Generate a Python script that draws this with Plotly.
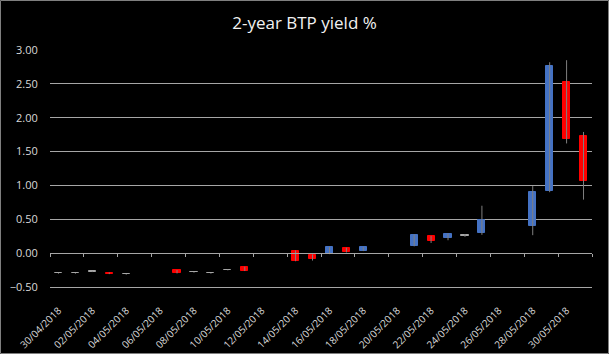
import pandas as pd
import plotly.graph_objects as go

# ---- data ----
dates = ["2018-04-30", "2018-05-01", "2018-05-02", "2018-05-03", "2018-05-04",
         "2018-05-07", "2018-05-08", "2018-05-09", "2018-05-10", "2018-05-11",
         "2018-05-14", "2018-05-15", "2018-05-16", "2018-05-17", "2018-05-18",
         "2018-05-21", "2018-05-22", "2018-05-23", "2018-05-24", "2018-05-25",
         "2018-05-28", "2018-05-29", "2018-05-30", "2018-05-31"]
open_ = [-0.300, -0.300, -0.275, -0.290, -0.315,
         -0.255, -0.285, -0.300, -0.250, -0.205,
         0.030, -0.030, -0.010, 0.080, 0.030,
         0.100, 0.250, 0.230, 0.260, 0.290,
         0.400, 0.920, 2.530, 1.730]
high = [-0.295, -0.295, -0.270, -0.285, -0.310,
        -0.250, -0.280, -0.295, -0.245, -0.200,
        0.040, -0.020, 0.090, 0.080, 0.090,
        0.275, 0.255, 0.290, 0.280, 0.700,
        0.990, 2.820, 2.850, 1.790]
low = [-0.305, -0.305, -0.280, -0.310, -0.320,
       -0.300, -0.290, -0.305, -0.255, -0.265,
       -0.120, -0.110, -0.015, 0.010, 0.030,
       0.100, 0.150, 0.190, 0.240, 0.270,
       0.265, 0.900, 1.620, 0.790]
close = [-0.292, -0.292, -0.267, -0.310, -0.307,
         -0.300, -0.277, -0.292, -0.242, -0.265,
         -0.110, -0.080, 0.090, 0.010, 0.090,
         0.270, 0.180, 0.280, 0.268, 0.490,
         0.905, 2.770, 1.690, 1.060]
tick_labels = ["30/04/2018", "02/05/2018", "04/05/2018", "06/05/2018", "08/05/2018",
               "10/05/2018", "12/05/2018", "14/05/2018", "16/05/2018", "18/05/2018",
               "20/05/2018", "22/05/2018", "24/05/2018", "26/05/2018", "28/05/2018",
               "30/05/2018"]
y_ticks = [-0.5, 0.0, 0.5, 1.0, 1.5, 2.0, 2.5, 3.0]
title_text = "2-year BTP yield %"

# ---- styling ----
UP = "#4472C4"
DOWN = "#FF0000"
FLAT = "#A6A6A6"
WICK = "#7F7F7F"
GRID = "#A6A6A6"
FONT = "Open Sans, Liberation Sans, sans-serif"

x = pd.to_datetime(dates)
tickvals = pd.to_datetime(tick_labels, format="%d/%m/%Y")

body_len = [c - o for o, c in zip(open_, close)]
colors = []
for o, c in zip(open_, close):
    if abs(c - o) < 0.015:
        colors.append(FLAT)
    elif c > o:
        colors.append(UP)
    else:
        colors.append(DOWN)

fig = go.Figure()

# wicks (high-low) as error bars
fig.add_trace(go.Scatter(
    x=x, y=low, mode="markers",
    marker=dict(size=1, color="rgba(0,0,0,0)"),
    error_y=dict(type="data", symmetric=False,
                 array=[h - l for h, l in zip(high, low)],
                 arrayminus=[0] * len(low),
                 color=WICK, thickness=1, width=0),
    hoverinfo="skip", showlegend=False, xaxis="x2",
))

# bodies
fig.add_trace(go.Bar(
    x=x, y=body_len, base=open_,
    width=0.42 * 86400000,
    marker=dict(color=colors, line=dict(color=colors, width=1)),
    showlegend=False,
))

day_ms = 86400000
fig.update_layout(
    width=609, height=354,
    paper_bgcolor="black", plot_bgcolor="black",
    margin=dict(l=50, r=17, t=50, b=67),
    title=dict(text=title_text, x=0.5, xanchor="center", y=0.935, yanchor="middle",
               font=dict(family=FONT, size=17, color="#F2F2F2")),
    bargap=0,
    xaxis=dict(
        type="date", automargin=False,
        range=[x[0] - pd.Timedelta(hours=12), x[-1] + pd.Timedelta(hours=12)],
        tickvals=tickvals, ticktext=tick_labels, tickangle=-45,
        ticks="outside", ticklen=13, tickcolor="rgba(0,0,0,0)",
        showgrid=False, zeroline=False,
        showline=True, linecolor=GRID, linewidth=1,
        tickfont=dict(family=FONT, size=10, color="#D9D9D9"),
    ),
    xaxis2=dict(
        type="date", overlaying="x", matches="x", anchor="free", position=0.5 / 3.5,
        tick0=x[0] - pd.Timedelta(hours=12), dtick=2 * day_ms,
        ticks="outside", ticklen=3, tickcolor=GRID, tickwidth=1,
        showticklabels=False, showgrid=False, zeroline=False,
        showline=True, linecolor=GRID, linewidth=1,
    ),
    yaxis=dict(
        automargin=False,
        range=[-0.5005, 3.0005], tickvals=y_ticks, tickformat=".2f",
        showgrid=True, gridcolor=GRID, gridwidth=1,
        zeroline=False, showline=False,
        ticks="outside", ticklen=9, tickcolor="rgba(0,0,0,0)",
        tickfont=dict(family=FONT, size=11, color="#D9D9D9"),
    ),
)

# chart-area border
fig.add_shape(type="rect", xref="paper", yref="paper",
              x0=-49.5 / 542, x1=1 + 16.5 / 542, y0=-66.5 / 237, y1=1 + 49.5 / 237,
              line=dict(color="#7F7F7F", width=1), fillcolor="rgba(0,0,0,0)", layer="below")

fig.write_html("out.html")
